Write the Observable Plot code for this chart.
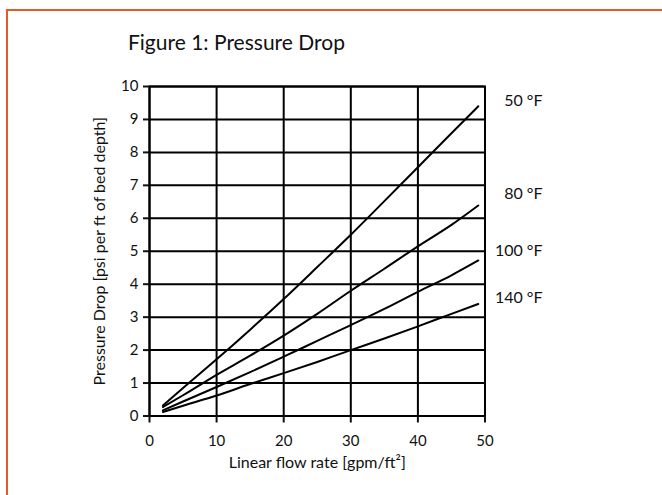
<!DOCTYPE html>
<html>
<head>
<meta charset="utf-8">
<script src="https://cdn.jsdelivr.net/npm/d3@7"></script>
<script src="https://cdn.jsdelivr.net/npm/@observablehq/plot@0.6"></script>
<style>
  html, body { margin: 0; padding: 0; background: #fff; }
  #wrap { position: relative; width: 662px; height: 495px; overflow: hidden; font-family: Lato, "Open Sans", sans-serif; }
  #border { position: absolute; left: 6px; top: 9px; width: 700px; height: 540px; border: 2px solid #E45A2D; pointer-events: none; box-sizing: border-box; }
  #title { position: absolute; left: 128px; top: 29px; font-size: 21px; line-height: 25px; color: #111; white-space: nowrap; }
  #chart { position: absolute; left: 0; top: 0; }
</style>
</head>
<body>
<div id="wrap">
  <div id="chart"></div>
  <div id="title">Figure 1: Pressure Drop</div>
  <div id="border"></div>
</div>
<script>
// Linear flow rate [gpm/ft²]
const flowRate = [2, 5, 10, 15, 20, 25, 30, 35, 40, 45, 49];
// Pressure drop [psi per ft of bed depth] per temperature
const drop50F  = [0.32, 0.85, 1.72, 2.62, 3.55, 4.52, 5.50, 6.52, 7.55, 8.58, 9.40];
const drop80F  = [0.27, 0.63, 1.25, 1.83, 2.44, 3.10, 3.80, 4.47, 5.15, 5.80, 6.39];
const drop100F = [0.17, 0.44, 0.88, 1.33, 1.80, 2.28, 2.76, 3.25, 3.77, 4.27, 4.72];
const drop140F = [0.12, 0.31, 0.62, 0.97, 1.30, 1.64, 2.00, 2.35, 2.72, 3.10, 3.40];
const seriesNames = ["50 °F", "80 °F", "100 °F", "140 °F"];
const labelValues = [9.56, 6.73, 5.0, 3.6];
const xTicks = [0, 10, 20, 30, 40, 50];
const yTicks = [0, 1, 2, 3, 4, 5, 6, 7, 8, 9, 10];
const xLabel = "Linear flow rate [gpm/ft²]";
const yLabel = "Pressure Drop [psi per ft of bed depth]";

const seriesValues = [drop50F, drop80F, drop100F, drop140F];
const rows = [];
seriesNames.forEach((name, i) => {
  flowRate.forEach((x, j) => rows.push({series: name, x, y: seriesValues[i][j]}));
});
const labels = seriesNames.map((name, i) => ({series: name, y: labelValues[i]}));

const chart = Plot.plot({
  width: 662,
  height: 495,
  marginLeft: 149,
  marginRight: 177.5,
  marginTop: 86,
  marginBottom: 79.5,
  style: {background: "transparent", fontFamily: "Lato, 'Open Sans', sans-serif", fontSize: "15px", color: "#111"},
  x: {domain: [0, 50]},
  y: {domain: [0, 10]},
  marks: [
    Plot.gridX(xTicks, {stroke: "#000", strokeOpacity: 1, strokeWidth: 2}),
    Plot.gridY(yTicks, {stroke: "#000", strokeOpacity: 1, strokeWidth: 2}),
    Plot.frame({stroke: "#000", strokeWidth: 2}),
    Plot.axisX({ticks: xTicks, tickSize: 7, tickPadding: 12, strokeWidth: 2, label: null, fontSize: 15}),
    Plot.axisY({ticks: yTicks, tickSize: 6, tickPadding: 5, strokeWidth: 2, label: null, fontSize: 15}),
    Plot.line(rows, {x: "x", y: "y", z: "series", stroke: "#000", strokeWidth: 2, curve: "monotone-x"}),
    Plot.text(labels, {y: "y", text: "series", frameAnchor: "right", dx: 57.5, textAnchor: "end", fontSize: 16, fill: "#111"}),
    Plot.text([xLabel], {frameAnchor: "bottom", dy: 52, textAnchor: "middle", fontSize: 16, fill: "#111"}),
    Plot.text([yLabel], {frameAnchor: "left", dx: -50, rotate: -90, textAnchor: "middle", fontSize: 16, fill: "#111"})
  ]
});
document.getElementById("chart").append(chart);
</script>
</body>
</html>
